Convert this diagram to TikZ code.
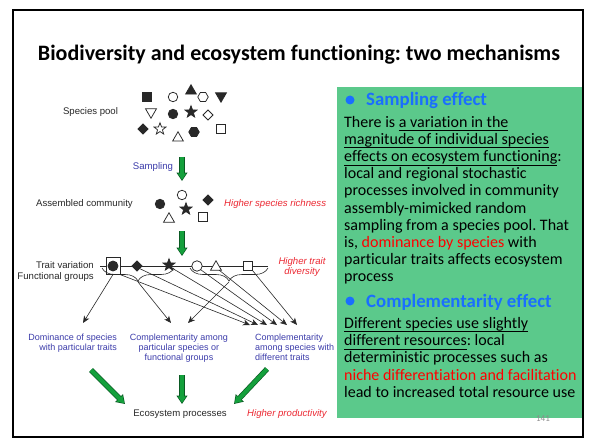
\documentclass[tikz,border=0pt]{standalone}
\usepackage{fontspec}
\setmainfont[Ligatures={NoCommon,NoContextual}]{Carlito}
\newfontfamily\diagfont{Liberation Sans}
\usetikzlibrary{arrows.meta,shapes.geometric,decorations.pathreplacing}
\frenchspacing

% underline set a little below the baseline, ignoring descenders
\newcommand\ulin[1]{\underline{\smash{#1}\rule[-1.6pt]{0pt}{1.6pt}}}

\definecolor{panelgreen}{RGB}{91,201,139}
\definecolor{headblue}{RGB}{26,110,255}
\definecolor{labelblue}{RGB}{60,60,170}
\definecolor{labelred}{RGB}{236,40,50}
\definecolor{inkgray}{RGB}{40,40,40}
\definecolor{arrowfill}{RGB}{20,160,60}
\definecolor{arrowedge}{RGB}{10,90,35}
\definecolor{pagegray}{RGB}{140,140,140}

\tikzset{
  sp/.style={inner sep=0pt, outer sep=0pt, line width=0.75pt, draw=inkgray},
  spfull/.style={sp, fill=inkgray},
  spopen/.style={sp, fill=white},
  spsq/.style={rectangle, minimum size=8.5pt},
  spcirc/.style={circle, minimum size=9.5pt},
  sptri/.style={regular polygon, regular polygon sides=3, minimum size=12.5pt},
  sptrid/.style={sptri, shape border rotate=180},
  sphex/.style={regular polygon, regular polygon sides=6, minimum size=10.5pt},
  spdia/.style={diamond, minimum size=10pt},
  spstar/.style={star, star points=5, star point ratio=2.4, minimum size=12.5pt},
  diaglabel/.style={inner sep=0pt, text=inkgray, font=\diagfont\fontsize{9.6}{10.2}\selectfont},
  bluelabel/.style={diaglabel, text=labelblue, font=\diagfont\fontsize{9}{10}\selectfont},
  redlabel/.style={diaglabel, text=labelred, font=\diagfont\itshape\fontsize{9.6}{10.2}\selectfont},
  thinarrow/.style={draw=inkgray, line width=0.6pt, -{Stealth[length=7pt,width=6pt,inset=2pt]}},
  grouping/.style={draw=inkgray, line width=0.6pt, decorate,
    decoration={brace, amplitude=13pt, aspect=0.5, mirror}},
  greenarrow/.style={draw=arrowfill, line width=4pt,
    -{Triangle[width=8pt,length=6.6pt]}, shorten >=1.1pt,
    preaction={draw=arrowedge, line width=5.4pt, -{Triangle[width=10.5pt,length=8.4pt]}, shorten >=0pt}},
  bodyline/.style={anchor=base west, inner sep=0pt, font=\fontsize{16}{17}\selectfont},
  headline/.style={anchor=base west, inner sep=0pt, text=headblue, font=\bfseries\fontsize{18.8}{20}\selectfont},
  bulletdot/.style={circle, fill=headblue, minimum size=9pt, inner sep=0pt},
}

\begin{document}
\begin{tikzpicture}[x=1pt,y=-1pt]
\useasboundingbox (0,0) rectangle (590,444);
\fill[white] (0,0) rectangle (590,444);

% ---------- title ----------
\node[anchor=base, inner sep=0pt, font=\bfseries\fontsize{22}{24}\selectfont] (title)
  at (299,61) {Biodiversity and ecosystem functioning: two mechanisms};

% ---------- species pool ----------
\node[diaglabel] (poollabel) at (90.5,112) {Species pool};
\node[spfull, spsq]  (p1)  at (147,97) {};
\node[spopen, spcirc] (p2) at (173,97) {};
\node[spfull, sptri] (p3)  at (191,91) {};
\node[spopen, sphex] (p4)  at (203,97) {};
\node[spfull, sptrid] (p5) at (221,96) {};
\node[spopen, sptrid] (p6) at (151,112) {};
\node[spfull, spcirc] (p7) at (173,114) {};
\node[spfull, spstar] (p8) at (191,112) {};
\node[spopen, spdia] (p9)  at (208,115) {};
\node[spfull, spdia] (p10) at (143,129) {};
\node[spopen, spstar] (p11) at (160,129) {};
\node[spopen, sptri] (p12) at (178,138) {};
\node[spfull, sphex] (p13) at (194,132) {};
\node[spopen, spsq]  (p14) at (221,129) {};

% sampling step
\coordinate (samp top) at (182,157);
\coordinate (samp end) at (182,181);
\draw[greenarrow] (samp top) -- (samp end);
\node[diaglabel, text=labelblue] (samplabel) at (153,167) {Sampling};

% ---------- assembled community ----------
\node[diaglabel] (commlabel) at (84.5,204) {Assembled community};
\node[spfull, spcirc] (a1) at (160,204) {};
\node[spopen, spcirc] (a2) at (182,195) {};
\node[spfull, spdia]  (a3) at (208,200) {};
\node[spfull, spstar] (a4) at (186,209) {};
\node[spopen, sptri]  (a5) at (169,219) {};
\node[spopen, spsq]   (a6) at (203,217) {};
\node[redlabel, anchor=west] (richness) at (224,204) {Higher species richness};

\coordinate (trait top) at (182,231);
\coordinate (trait end) at (182,256);
\draw[greenarrow] (trait top) -- (trait end);

% ---------- trait axis ----------
\node[diaglabel, anchor=east] (traitlabel) at (94,265) {Trait variation};
\node[diaglabel, anchor=east] (grouplabel) at (94,277) {Functional groups};
\coordinate (axis left) at (100,266);
\coordinate (axis right) at (268,266);
\draw[draw=inkgray, line width=0.7pt] (axis left) -- (axis right);

\node[sp, rectangle, fill=white, minimum width=14pt, minimum height=17pt] (t1box) at (113,266) {};
\node[spfull, spcirc, minimum size=10pt] (t1) at (113,266) {};
\node[spfull, spdia] (t2) at (137,266) {};
\node[spfull, spstar] (t3) at (169,265) {};
\node[spopen, spcirc, minimum size=10.5pt] (t4) at (197,266) {};
\node[spopen, sptri] (t5) at (216,267) {};
\node[spopen, spsq, minimum size=9.5pt] (t6) at (248,266) {};

\node[redlabel, align=center] (traitdiv) at (302,267) {Higher trait\\diversity};

% functional-group braces
\coordinate (g1a) at (102,268);
\coordinate (g1b) at (174,268);
\coordinate (g2a) at (190,268);
\coordinate (g2b) at (268,268);
\draw[grouping] (g1a) -- (g1b);
\draw[grouping] (g2a) -- (g2b);
\coordinate (g1tip) at (138,282);
\coordinate (g2tip) at (229,282);

% ---------- outcome labels ----------
\node[bluelabel, align=right, anchor=north east] (dom) at (117,334)
  {Dominance of species\\with particular traits};
\node[bluelabel, align=center, anchor=north] (compgrp) at (179,334)
  {Complementarity among\\particular species or\\functional groups};
\node[bluelabel, align=left, anchor=north west] (compsp) at (255,334)
  {Complementarity\\among species with\\different traits};

% arrow ends above the outcome labels
\coordinate (dom end) at (83,323);
\coordinate (grp end a) at (171,323);
\coordinate (grp end b) at (188,323);
\coordinate (sp end 1) at (250,325);
\coordinate (sp end 2) at (258,325);
\coordinate (sp end 3) at (267,325);
\coordinate (sp end 4) at (277,325);
\coordinate (sp end 5) at (287,325);
\coordinate (sp end 6) at (297,325);

\draw[thinarrow] (t1box.south) -- (dom end);
\draw[thinarrow] (g1tip) -- (grp end a);
\draw[thinarrow] (g2tip) -- (grp end b);
\draw[thinarrow] (t1box.south east) -- (sp end 1);
\draw[thinarrow] (t2.south east) -- (sp end 2);
\draw[thinarrow] (t3.south east) -- (sp end 3);
\draw[thinarrow] (t4.south east) -- (sp end 4);
\draw[thinarrow] (t5.south east) -- (sp end 5);
\draw[thinarrow] (t6.south east) -- (sp end 6);

% ---------- ecosystem processes ----------
\node[diaglabel] (eco) at (180,414) {Ecosystem processes};
\node[redlabel, anchor=west] (prod) at (247,414) {Higher productivity};
\coordinate (left start) at (91,370);
\coordinate (left end) at (125,404);
\coordinate (mid start) at (182,375);
\coordinate (mid end) at (182,404);
\coordinate (right start) at (267,369);
\coordinate (right end) at (234,404);
\draw[greenarrow] (left start) -- (left end);
\draw[greenarrow] (mid start) -- (mid end);
\draw[greenarrow] (right start) -- (right end);

% ---------- text panel ----------
\fill[panelgreen] (337,87) rectangle (583,418);

\node[bulletdot] (dot1) at (350,100) {};
\node[headline] (head1) at (366,106) {Sampling effect};
\node[bodyline] (s1) at (344,127.5) {There is \ulin{a variation in the}};
\node[bodyline] (s2) at (344,144.6) {\ulin{magnitude of individual species}};
\node[bodyline] (s3) at (344,161.7) {\ulin{effects on ecosystem functioning}:};
\node[bodyline] (s4) at (344,178.8) {local and regional stochastic};
\node[bodyline] (s5) at (344,195.9) {processes involved in community};
\node[bodyline] (s6) at (344,213.0) {assembly-mimicked random};
\node[bodyline] (s7) at (344,230.1) {sampling from a species pool. That};
\node[bodyline] (s8) at (344,247.2) {is, \textcolor{red}{dominance by species} with};
\node[bodyline] (s9) at (344,264.3) {particular traits affects ecosystem};
\node[bodyline] (s10) at (344,281.4) {process};

\node[bulletdot] (dot2) at (350,301) {};
\node[headline] (head2) at (366,307) {Complementarity effect};
\node[bodyline] (c1) at (344,328.5) {\ulin{Different species use slightly}};
\node[bodyline] (c2) at (344,345.7) {\ulin{different resources}: local};
\node[bodyline] (c3) at (344,362.9) {deterministic processes such as};
\node[bodyline] (c4) at (344,380.1) {\textcolor{red}{niche differentiation and facilitation}};
\node[bodyline] (c5) at (344,397.3) {lead to increased total resource use};

\node[inner sep=0pt, text=pagegray, font=\fontsize{9}{10}\selectfont] (pagenum) at (543,419) {141};

% ---------- slide frame ----------
\draw[line width=2pt] (13,10) rectangle (583,437);
\end{tikzpicture}
\end{document}
